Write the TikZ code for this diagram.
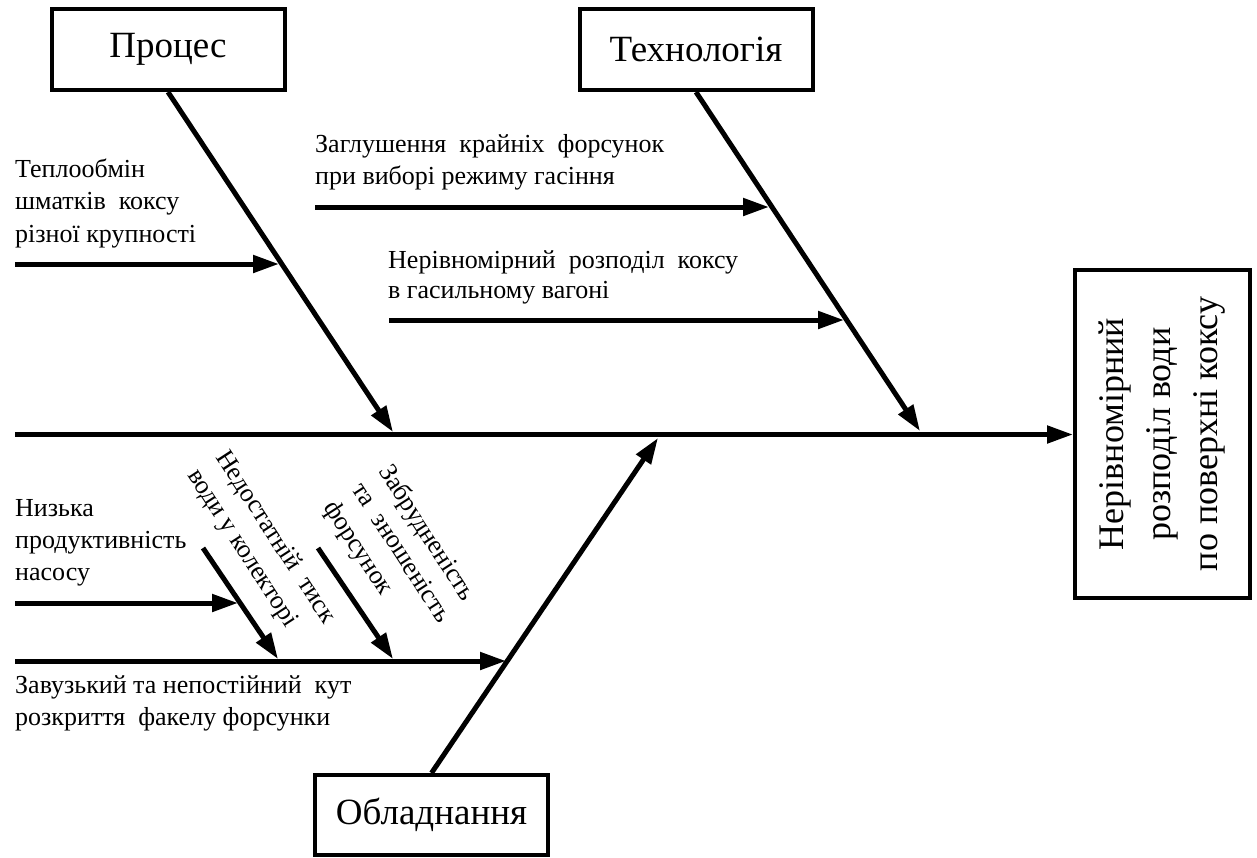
\documentclass[tikz,border=0pt]{standalone}
\usepackage{fontspec}
\setmainfont{Liberation Serif}
\newfontfamily\tnr{Liberation Serif}
\usetikzlibrary{arrows.meta}
\begin{document}
\begin{tikzpicture}[x=1pt,y=-1pt,
  box/.style={draw, line width=4pt, inner sep=0pt},
  titlebox/.style={box, minimum width=233pt, minimum height=81pt, font=\tnr\fontsize{37}{44}\selectfont},
  lbl/.style={anchor=base west, inner sep=0pt, font=\tnr\fontsize{26}{32}\selectfont},
  rlbl/.style={lbl, rotate=-57},
  arr/.style={line width=5pt, -{Triangle[length=26pt,width=17pt]}},
]
\useasboundingbox[fill=white] (0,0) rectangle (1257,857);

% category boxes
\node[titlebox] (proc) at (168,49.5) {Процес};
\node[titlebox] (tech) at (696,49.5) {Технологія};
\node[titlebox, minimum height=80pt] (equip) at (431.5,815) {Обладнання};

% result box
\node[box, rotate=90, minimum width=328pt, minimum height=175pt, align=center,
      font=\tnr\fontsize{36}{47}\selectfont] (res) at (1162.5,434)
      {Нерівномірний\\розподіл води\\по поверхні коксу};

% spine
\coordinate (sStart) at (15,434.5);
\draw[arr] (sStart) -- (sStart -| res.north);

% main bones
\coordinate (pTip) at (393,432);
\coordinate (tTip) at (920,431);
\coordinate (eTip) at (658,438);
\draw[arr] (proc.south) -- (pTip);
\draw[arr] (tech.south) -- (tTip);
\draw[arr] (equip.north) -- (eTip);

% sub causes: process
\node[lbl] (p1a) at (15,177) {Теплообмін};
\node[lbl] (p1b) at (15,209.5) {шматків\ \ коксу};
\node[lbl] (p1c) at (15,242) {різної крупності};
\coordinate (a1s) at (15,264);
\coordinate (a1e) at (279,264);
\draw[arr] (a1s) -- (a1e);

% sub causes: technology
\node[lbl] (t1a) at (315,152) {Заглушення\ \ крайніх\ \ форсунок};
\node[lbl] (t1b) at (315,184) {при виборі режиму гасіння};
\coordinate (a2s) at (315,207);
\coordinate (a2e) at (769,207);
\draw[arr] (a2s) -- (a2e);

\node[lbl] (t2a) at (388,268) {Нерівномірний\ \ розподіл\ \ коксу};
\node[lbl] (t2b) at (388,298) {в гасильному вагоні};
\coordinate (a3s) at (389,320);
\coordinate (a3e) at (844,320);
\draw[arr] (a3s) -- (a3e);

% sub causes: equipment
\node[lbl] (e1a) at (15,516) {Низька};
\node[lbl] (e1b) at (15,548) {продуктивність};
\node[lbl] (e1c) at (15,580) {насосу};
\coordinate (a4s) at (15,603);
\coordinate (a4e) at (238,603);
\draw[arr] (a4s) -- (a4e);

\coordinate (a5s) at (15,661);
\coordinate (a5e) at (506,661);
\draw[arr] (a5s) -- (a5e);
\node[lbl] (e2a) at (15,693) {Завузький\ та\ непостійний\ \ кут};
\node[lbl] (e2b) at (15,725) {розкриття\ \ факелу\ форсунки};

\coordinate (d1s) at (203,548);
\coordinate (d1e) at (278,659);
\draw[arr] (d1s) -- (d1e);
\coordinate (d2s) at (318,548);
\coordinate (d2e) at (393,659);
\draw[arr] (d2s) -- (d2e);

\node[rlbl] (r1a) at (215,457) {Недостатній\ \ тиск};
\node[rlbl] (r1b) at (187,475) {води у колекторі};
\node[rlbl] (r2a) at (378,471) {Забрудненість};
\node[rlbl] (r2b) at (351,489) {та\ \ зношеність};
\node[rlbl] (r2c) at (323,507) {форсунок};
\end{tikzpicture}
\end{document}
